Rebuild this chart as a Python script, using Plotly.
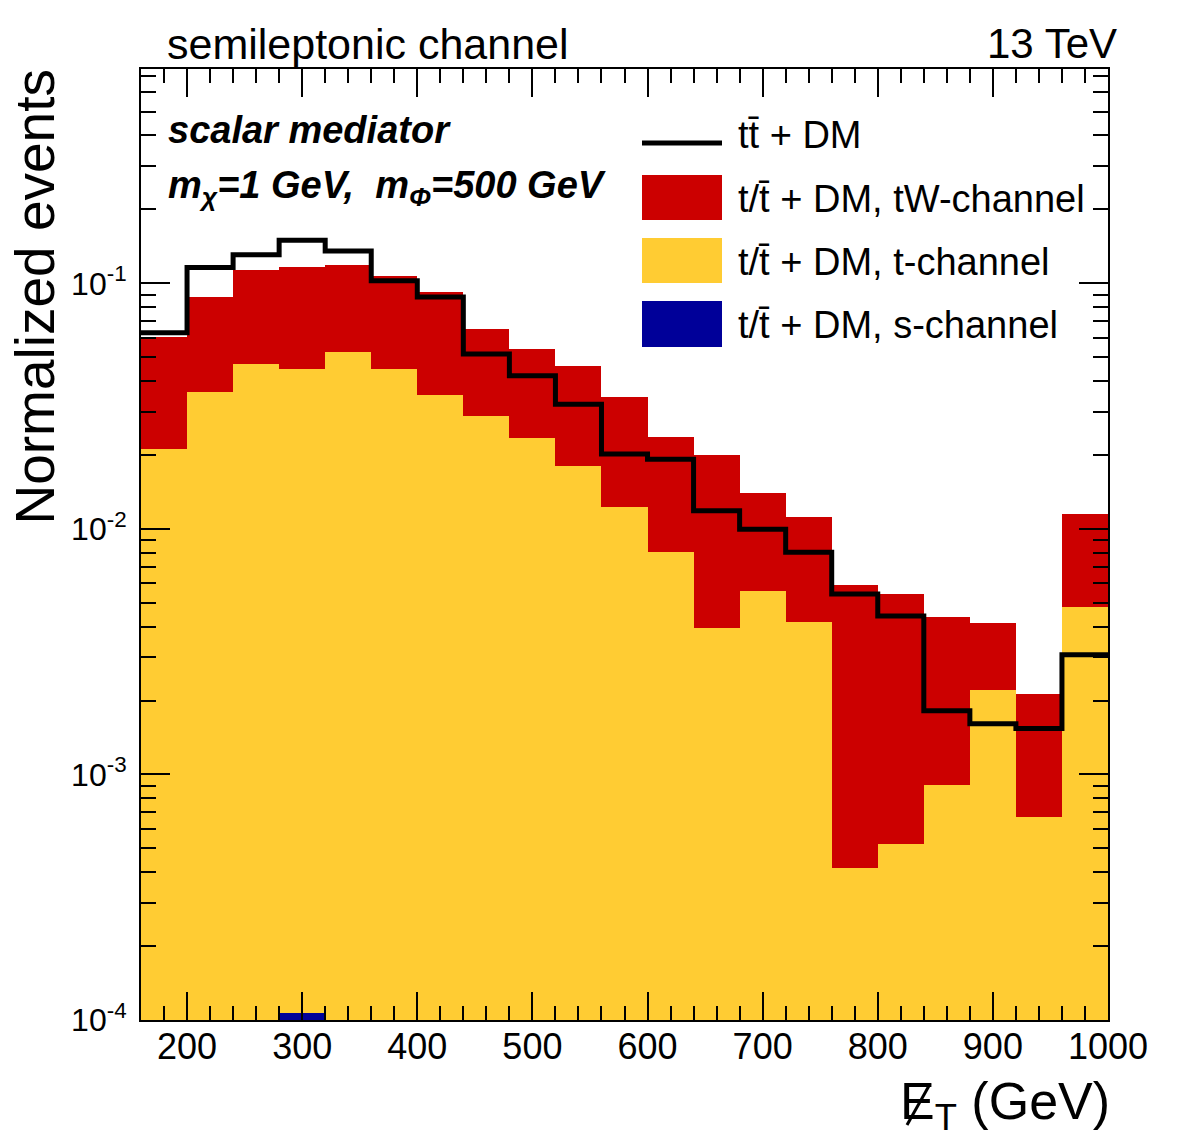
import numpy as np
import plotly.graph_objects as go

# ---------------- data ----------------
bin_edges = [160, 200, 240, 280, 320, 360, 400, 440, 480, 520, 560, 600,
             640, 680, 720, 760, 800, 840, 880, 920, 960, 1000]

# individual (unstacked) contributions
s_channel = [0, 0, 0, 0.000107, 0, 0, 0, 0, 0, 0, 0, 0, 0, 0, 0, 0, 0, 0, 0, 0, 0]
t_channel = [0.0211, 0.0361, 0.0470, 0.04469, 0.0525, 0.0448, 0.0352, 0.0288, 0.0235,
             0.0181, 0.0123, 0.00807, 0.00394, 0.00558, 0.00416, 0.000415, 0.000523,
             0.000904, 0.00220, 0.000671, 0.00479]
tW_channel = [0.0394, 0.0518, 0.0666, 0.0712, 0.0658, 0.0626, 0.0569, 0.0363, 0.0305,
              0.0280, 0.0220, 0.01553, 0.01601, 0.00838, 0.00704, 0.005475, 0.004907,
              0.003456, 0.00195, 0.001459, 0.00671]
ttDM = [0.0629, 0.116, 0.1308, 0.1496, 0.1355, 0.1025, 0.0879, 0.0515, 0.0420, 0.0322,
        0.0202, 0.0192, 0.01186, 0.00996, 0.00803, 0.00543, 0.00442, 0.001816, 0.00161,
        0.001538, 0.00307]

x_tickvals = [200, 300, 400, 500, 600, 700, 800, 900, 1000]
y_tickvals = [1e-4, 1e-3, 1e-2, 1e-1]
y_ticktext = ["10<sup>-4</sup>", "10<sup>-3</sup>", "10<sup>-2</sup>", "10<sup>-1</sup>"]

# ---------------- figure ----------------
W, H = 1182, 1146
L, R, T, B = 141, 74, 69, 126
pw, ph = W - L - R, H - T - B

def px(x):
    return (x - L) / pw

def py(y):
    return (H - B - y) / ph

edges = np.array(bin_edges, dtype=float)
centers = 0.5 * (edges[:-1] + edges[1:])
widths = np.diff(edges)

lvl_blue = np.array(s_channel)
lvl_yellow = lvl_blue + np.array(t_channel)
lvl_red = lvl_yellow + np.array(tW_channel)

RED = "#cc0000"
YEL = "#ffcc33"
BLU = "#000099"
FONT = "Liberation Sans, Arial, Helvetica, sans-serif"

fig = go.Figure()
for lvl, col, name in [(lvl_red, RED, "t/t̄ + DM, tW-channel"),
                       (lvl_yellow, YEL, "t/t̄ + DM, t-channel"),
                       (lvl_blue, BLU, "t/t̄ + DM, s-channel")]:
    fig.add_trace(go.Bar(x=centers, y=lvl, width=widths, marker=dict(color=col, line=dict(width=0)),
                         name=name, showlegend=False))

fig.add_trace(go.Scatter(x=edges, y=list(ttDM) + [ttDM[-1]], mode="lines",
                         line=dict(color="black", width=5, shape="hv"),
                         name="tt̄ + DM", showlegend=False))

minor_y = [m * 10.0 ** e for e in range(-4, 0) for m in range(2, 10) if m * 10.0 ** e < 0.75]

fig.update_layout(
    width=W, height=H, margin=dict(l=L, r=R, t=T, b=B),
    paper_bgcolor="white", plot_bgcolor="white",
    barmode="overlay", bargap=0,
    font=dict(family=FONT, color="black"),
    showlegend=False,
)
fig.update_xaxes(
    range=[160, 1000], showgrid=False, zeroline=False,
    showline=True, linecolor="black", linewidth=2, mirror="allticks",
    ticks="inside", ticklen=28, tickwidth=2, tickcolor="black",
    tickvals=x_tickvals, tickfont=dict(size=36, family=FONT),
    ticklabelstandoff=-6,
    minor=dict(ticks="inside", ticklen=14, tickwidth=2, tickcolor="black", dtick=20, tick0=160, showgrid=False),
)
fig.update_yaxes(
    type="log", range=[-4, np.log10(0.746)], showgrid=False, zeroline=False,
    showline=True, linecolor="black", linewidth=2, mirror="allticks",
    ticks="inside", ticklen=29, tickwidth=2, tickcolor="black",
    tickvals=y_tickvals, ticktext=y_ticktext, tickfont=dict(size=32, family=FONT),
    ticklabelstandoff=6,
    minor=dict(ticks="inside", ticklen=15, tickwidth=2, tickcolor="black", tickvals=minor_y, showgrid=False),
)

ann = []
def text(x, y, s, size, xanchor="left", yanchor="middle", angle=0):
    ann.append(dict(xref="paper", yref="paper", x=px(x), y=py(y), text=s, showarrow=False,
                    xanchor=xanchor, yanchor=yanchor, textangle=angle,
                    font=dict(size=size, family=FONT, color="black")))

text(165, 44, "semileptonic channel", 43)
text(1119, 44, "13 TeV", 42, xanchor="right")
text(166, 130, "<b><i>scalar mediator</i></b>", 38)
text(166, 188, "<b><i>m<sub>χ</sub>=1 GeV,\u00a0\u00a0m<sub>Φ</sub>=500 GeV</i></b>", 38)
text(34, 68, "Normalized events", 55, xanchor="center", yanchor="top", angle=-90)
text(1112, 1105, "E<sub>T</sub> (GeV)", 52, xanchor="right")

# legend (manual) and the slash of the missing-energy symbol
shapes = [
    dict(type="line", xref="paper", yref="paper", x0=px(907), x1=px(930), y0=py(1125), y1=py(1084),
         line=dict(color="black", width=3)),
    dict(type="line", xref="paper", yref="paper", x0=px(642), x1=px(722), y0=py(143), y1=py(143),
         line=dict(color="black", width=5)),
    dict(type="rect", xref="paper", yref="paper", x0=px(642), x1=px(722), y0=py(175), y1=py(220),
         fillcolor=RED, line=dict(width=0)),
    dict(type="rect", xref="paper", yref="paper", x0=px(642), x1=px(722), y0=py(238), y1=py(283),
         fillcolor=YEL, line=dict(width=0)),
    dict(type="rect", xref="paper", yref="paper", x0=px(642), x1=px(722), y0=py(301), y1=py(347),
         fillcolor=BLU, line=dict(width=0)),
]
leg_labels = ["tt̄ + DM", "t/t̄ + DM, tW-channel", "t/t̄ + DM, t-channel", "t/t̄ + DM, s-channel"]
for lab, yb in zip(leg_labels, [148, 212, 275, 338]):
    text(736, yb - 13, lab, 38)

fig.update_layout(annotations=ann, shapes=shapes)
fig.write_html("out.html")
